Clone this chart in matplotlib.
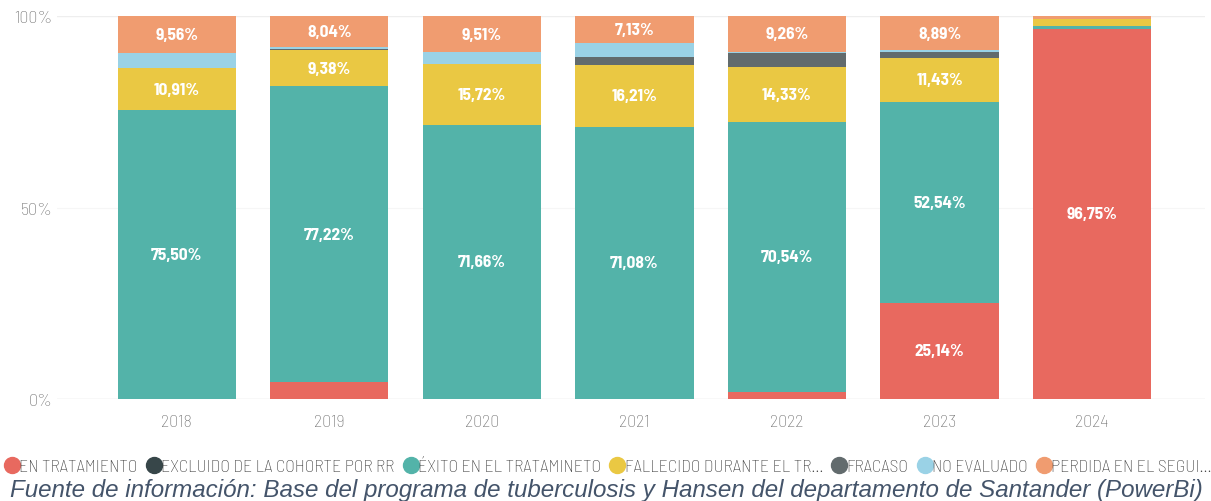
import matplotlib.pyplot as plt
from matplotlib.lines import Line2D
import numpy as np

years = ["2018", "2019", "2020", "2021", "2022", "2023", "2024"]

categories = ["EN TRATAMIENTO", "EXCLUIDO DE LA COHORTE POR RR", "ÉXITO EN EL TRATAMINETO",
              "FALLECIDO DURANTE EL TR...", "FRACASO", "NO EVALUADO", "PERDIDA EN EL SEGUI..."]

en_tratamiento = [0.0, 4.46, 0.0, 0.0, 1.87, 25.14, 96.75]
excluido = [0.0, 0.0, 0.0, 0.0, 0.0, 0.0, 0.0]
exito = [75.50, 77.22, 71.66, 71.08, 70.54, 52.54, 0.64]
fallecido = [10.91, 9.38, 15.72, 16.21, 14.33, 11.43, 1.74]
fracaso = [0.0, 0.45, 0.0, 1.93, 3.50, 1.50, 0.0]
no_evaluado = [4.03, 0.45, 3.11, 3.65, 0.50, 0.54, 0.0]
perdida = [9.56, 8.04, 9.51, 7.13, 9.26, 8.89, 0.87]

colors = ["#E8695F", "#374649", "#53B3A9", "#EAC843", "#626B6D", "#9AD2E6", "#F09C70"]

series = [en_tratamiento, excluido, exito, fallecido, fracaso, no_evaluado, perdida]

cond_font = ["Barlow Semi Condensed", "Barlow Condensed", "DejaVu Sans"]

fig = plt.figure(figsize=(12.11, 5.02), dpi=100)
ax = fig.add_axes([0.047, 0.203, 0.948, 0.763])

x = np.arange(len(years))
bottom = np.zeros(len(years))
for vals, col in zip(series, colors):
    vals = np.array(vals)
    bars = ax.bar(x, vals, bottom=bottom, width=0.775, color=col, zorder=3)
    # only label the big segments, like powerbi does
    labels = [f"{v:.2f}%".replace(".", ",") if v >= 5 else "" for v in vals]
    ax.bar_label(bars, labels=labels, label_type="center", color="white",
                 fontsize=12.5, fontweight="bold", family=cond_font)
    bottom += vals

ax.set_xlim(-0.786, 6.74)
ax.set_ylim(0, 100)
ax.set_yticks([0, 50, 100])
ax.set_yticklabels(["0%", "50%", "100%"])
ax.set_xticks(x)
ax.set_xticklabels(years)
ax.tick_params(axis="both", length=0, colors="#6f6f6f", labelsize=13)
ax.tick_params(axis="x", pad=11)
ax.tick_params(axis="y", pad=3)
for lab in ax.get_yticklabels() + ax.get_xticklabels():
    lab.set_family(cond_font)
    lab.set_fontweight("light")
for s in ax.spines.values():
    s.set_visible(False)
ax.axhline(100, color="#eeeeee", lw=1, zorder=1)
ax.axhline(0, color="#dddddd", lw=1, zorder=1)
ax.axhline(50, color="#f6f6f6", lw=0.8, zorder=1)

handles = [Line2D([], [], marker="o", linestyle="", markersize=11.5, markerfacecolor=c,
                  markeredgecolor=c) for c in colors]
fig.legend(handles, categories, loc="upper left", bbox_to_anchor=(0.001, 0.085), ncol=7,
           frameon=False, handletextpad=-0.2, columnspacing=0.33, handlelength=1.2,
           prop={"family": cond_font, "size": 12.8, "weight": "light"}, labelcolor="#3a3a3a",
           borderaxespad=0, borderpad=0)

fig.text(0.008, 0.0, "Fuente de información: Base del programa de tuberculosis y Hansen del departamento de Santander (PowerBi)",
         style="italic", fontsize=17.4, color="#44546A", family=["Liberation Sans", "DejaVu Sans"],
         ha="left", va="bottom")

fig.savefig("out.png", dpi=100)
